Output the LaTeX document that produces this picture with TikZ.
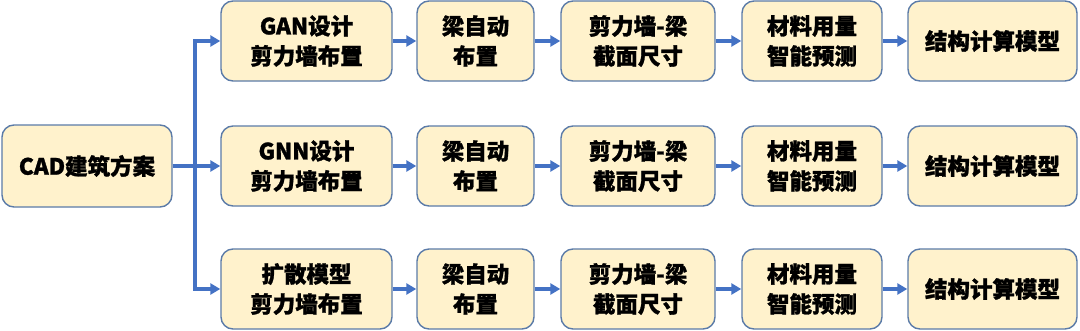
\documentclass[tikz,border=0pt]{standalone}
\usepackage{fontspec}
\setmainfont{Noto Sans CJK SC Bold}[FakeBold=1.2]
\usetikzlibrary{arrows.meta}
\definecolor{boxfill}{HTML}{FFF2CC}
\definecolor{boxdraw}{HTML}{5B7BA8}
\definecolor{arrblue}{HTML}{4472C4}
\tikzset{
  stepbox/.style={draw=boxdraw, fill=boxfill, line width=1.4pt, rounded corners=12pt,
    align=center, inner sep=0pt, font=\fontsize{22.5}{30}\selectfont\bfseries, text=black},
  arr/.style={draw=arrblue, line width=3.3pt, -{Triangle[length=10pt,width=11pt]}},
}
\begin{document}
\begin{tikzpicture}[x=1pt,y=-1pt]
\useasboundingbox (0,0) rectangle (1080,330);
\node[stepbox, minimum width=170pt, minimum height=82pt] (cad) at (87,166) {CAD建筑方案};
\foreach \r/\y/\t in {1/41/GAN设计, 2/166/GNN设计, 3/289/扩散模型}{
  \node[stepbox, minimum width=171pt, minimum height=80pt] (r\r b1) at (306.5,\y) {\t\\剪力墙布置};
  \node[stepbox, minimum width=117pt, minimum height=80pt] (r\r b2) at (475.5,\y) {梁自动\\布置};
  \node[stepbox, minimum width=154pt, minimum height=80pt] (r\r b3) at (638,\y) {剪力墙-梁\\截面尺寸};
  \node[stepbox, minimum width=140pt, minimum height=80pt] (r\r b4) at (812,\y) {材料用量\\智能预测};
  \node[stepbox, minimum width=169pt, minimum height=80pt] (r\r b5) at (992.5,\y) {结构计算模型};
  \draw[arr] (r\r b1) -- (r\r b2);
  \draw[arr] (r\r b2) -- (r\r b3);
  \draw[arr] (r\r b3) -- (r\r b4);
  \draw[arr] (r\r b4) -- (r\r b5);
}
\coordinate (jn) at (195,166);
\draw[arr] (cad) -- (r2b1);
\draw[arr] (jn) |- (r1b1);
\draw[arr] (jn) |- (r3b1);
\end{tikzpicture}
\end{document}
